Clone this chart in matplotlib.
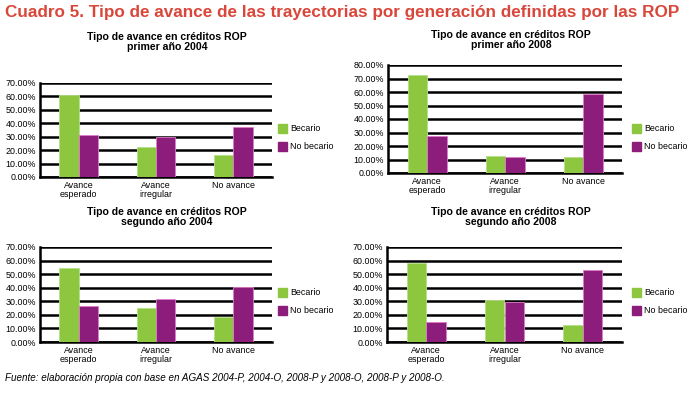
import matplotlib
matplotlib.use("Agg")
import matplotlib.pyplot as plt
from matplotlib.patches import Patch
import numpy as np

plt.rcParams['font.family'] = ['Liberation Sans', 'DejaVu Sans']

categorias = ["Avance\nesperado", "Avance\nirregular", "No avance"]
series = ["Becario", "No becario"]

titulos = ["Tipo de avance en créditos ROP\nprimer año 2004",
           "Tipo de avance en créditos ROP\nprimer año 2008",
           "Tipo de avance en créditos ROP\nsegundo año 2004",
           "Tipo de avance en créditos ROP\nsegundo año 2008"]

becario_p2004 = [61.3, 22.3, 16.1]
nobecario_p2004 = [31.5, 29.8, 37.0]
becario_p2008 = [72.6, 12.8, 11.8]
nobecario_p2008 = [27.6, 11.8, 58.6]
becario_s2004 = [54.4, 24.8, 18.6]
nobecario_s2004 = [26.5, 31.9, 40.3]
becario_s2008 = [58.2, 30.9, 12.4]
nobecario_s2008 = [14.9, 29.7, 52.7]

ymax = [70, 80, 70, 70]

verde = "#8dc63f"
morado = "#8c1d7a"
rojo = "#d9463a"

W, H = 691, 395
fig = plt.figure(figsize=(W / 100, H / 100), dpi=100)

# cajas en pixeles: izquierda, arriba, derecha, abajo
cajas = [(40, 83, 272, 177), (388, 65, 622, 173),
         (40, 247, 272, 342), (387, 247, 622, 342)]
pos_titulo = [(167, 42), (511, 40), (167, 217), (511, 217)]
pos_leyenda = [(270, 116), (624, 116), (270, 280), (624, 280)]
datos = [(becario_p2004, nobecario_p2004), (becario_p2008, nobecario_p2008),
         (becario_s2004, nobecario_s2004), (becario_s2008, nobecario_s2008)]

x = np.arange(len(categorias))
ancho = 0.25

for i in range(4):
    l, t, r, b = cajas[i]
    ax = fig.add_axes([l / W, (H - b) / H, (r - l) / W, (b - t) / H])
    bec, nob = datos[i]
    ax.bar(x - ancho / 2, bec, ancho, color=verde, edgecolor="#b5e08a", linewidth=0.6, zorder=3)
    ax.bar(x + ancho / 2, nob, ancho, color=morado, edgecolor="#e07ccc", linewidth=0.6, zorder=3)
    ax.set_xlim(-0.5, 2.5)
    ax.set_ylim(0, ymax[i])
    ax.set_yticks(np.arange(0, ymax[i] + 1, 10))
    ax.set_yticklabels(["%.2f%%" % v for v in np.arange(0, ymax[i] + 1, 10)], fontsize=6.4)
    ax.set_xticks(x)
    ax.set_xticklabels(categorias, fontsize=6.4, linespacing=1.0)
    ax.tick_params(length=0, pad=3)
    ax.yaxis.grid(True, color="black", linewidth=1.8, zorder=0)
    ax.set_axisbelow(True)
    for s in ["top", "right"]:
        ax.spines[s].set_visible(False)
    ax.spines["left"].set_linewidth(1.8)
    ax.spines["bottom"].set_linewidth(1.8)

    tx, ty = pos_titulo[i]
    fig.text(tx / W, 1 - ty / H, titulos[i], ha="center", va="center",
             fontsize=7.6, fontweight="bold", linespacing=1.05)

    lx, ly = pos_leyenda[i]
    handles = [Patch(color=verde), Patch(color=morado)]
    ax.legend(handles, series, loc="upper left", bbox_to_anchor=(lx / W, 1 - ly / H),
              bbox_transform=fig.transFigure, frameon=False, fontsize=6.4,
              handlelength=1.0, handleheight=1.1, labelspacing=1.0, handletextpad=0.4)

fig.text(5 / W, 1 - 13 / H,
         "Cuadro 5. Tipo de avance de las trayectorias por generación definidas por las ROP",
         ha="left", va="center", fontsize=12.3, fontweight="bold", color=rojo)
fig.text(5 / W, 1 - 378 / H,
         "Fuente: elaboración propia con base en AGAS 2004-P, 2004-O, 2008-P y 2008-O, 2008-P y 2008-O.",
         ha="left", va="center", fontsize=7.1, style="italic")

fig.savefig("out.png", dpi=100)
